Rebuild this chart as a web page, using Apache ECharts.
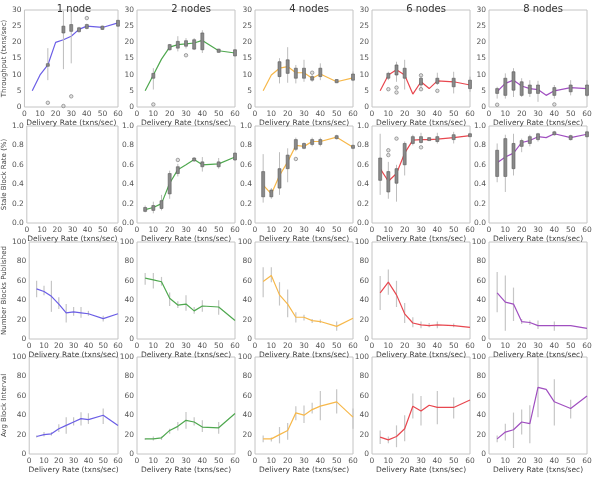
<!DOCTYPE html>
<html>
<head>
<meta charset="utf-8">
<script src="https://cdn.jsdelivr.net/npm/echarts@6/dist/echarts.min.js"></script>
<style>
  html, body { margin: 0; padding: 0; background: #fff; }
  #chart { width: 596px; height: 480px; }
</style>
</head>
<body>
<div id="chart"></div>
<script>
// delivery rates (x) shared by all panels
var rates = [5, 10, 15, 20, 25, 30, 35, 40, 50, 60];
var nodeTitles = ['1 node', '2 nodes', '4 nodes', '6 nodes', '8 nodes'];
var rowNames = ['Throughput (txns/sec)', 'Stale Block Rate (%)', 'Number Blocks Published', 'Avg Block Interval'];
var colors = ['#6b5ee6', '#4fa84f', '#f7b84a', '#e8474f', '#a04fc0'];

// row 1: throughput (mean line), boxes [x, min, q1, q3, max], outliers [x, y]
var tput1 = [5, 9.9, 13, 20, 20.8, 21.9, 24, 25, 24.6, 26];
var tput2 = [5, 9.9, 14.8, 18.5, 19.3, 19.5, 19.8, 20.6, 17.4, 16.7];
var tput4 = [5, 9.9, 12, 12.5, 10.6, 10.6, 8.9, 10.2, 7.8, 9];
var tput6 = [5, 9.9, 11.5, 9.9, 4, 7.8, 5.7, 8.1, 7.8, 6.8];
var tput8 = [4.8, 7.3, 8.3, 6.5, 5.7, 5.4, 3.6, 5, 6, 5.7];

var tput1Box = [[15, 8.3, 12.6, 13.4, 18.2], [25, 11.7, 22.9, 25, 29.7], [30, 13.5, 23.4, 25.5, 29.7], [35, 23, 23.3, 24.5, 24.8], [40, 24, 24.3, 25.5, 25.8], [50, 23.8, 24, 25, 25.2], [60, 24.8, 25, 26.8, 27]];
var tput2Box = [[10, 5.4, 8.9, 10.4, 12], [20, 17.5, 17.7, 19.3, 19.5], [25, 17.2, 18.2, 20.3, 21.9], [30, 18.1, 18.8, 20.5, 21.3], [35, 17.6, 17.9, 20.8, 21.3], [40, 16.7, 17.7, 22.9, 23.75], [50, 16.8, 16.9, 17.9, 18], [60, 15.6, 15.8, 17.7, 17.9]];
var tput4Box = [[15, 7.3, 9.4, 14, 15.1], [20, 7.5, 10.4, 14.6, 18.5], [25, 7.3, 8.9, 12, 13], [30, 7.8, 8.9, 12, 14.6], [35, 7.8, 8.3, 9.4, 9.9], [40, 8.3, 9.4, 12, 13.5], [50, 7.4, 7.5, 8.5, 8.6], [60, 8, 8.3, 10.2, 11]];
var tput6Box = [[10, 8.3, 8.9, 10.4, 10.9], [15, 7.8, 9.9, 13, 14], [20, 5.4, 8.9, 12, 14.6], [30, 5.4, 6.8, 8.9, 10.2], [40, 6.8, 7.3, 8.9, 10.6], [50, 4.2, 6.25, 8.9, 10.9], [60, 4.7, 5.7, 8.3, 9.4]];
var tput8Box = [[5, 2.6, 4.2, 5.7, 6.25], [10, 2.6, 3.6, 8.9, 10.4], [15, 3.1, 5.2, 10.9, 12], [20, 3.1, 3.6, 7.8, 8.9], [25, 3.1, 4.2, 6.8, 8.3], [30, 1.6, 4.2, 6.8, 8.1], [40, 2.6, 3.6, 6, 6.8], [50, 3.6, 4.7, 6.8, 8.3], [60, 3.1, 3.6, 6.8, 8.3]];

var tput1Out = [[15, 1.3], [25, 0.3], [30, 3.3], [40, 27.5]];
var tput2Out = [[10, 0.8], [30, 16]];
var tput4Out = [[35, 10.6]];
var tput6Out = [[10, 5.5], [15, 6], [15, 4.5], [30, 9.8], [30, 5.5], [40, 5]];
var tput8Out = [[5, 0.7], [40, 0.8]];

// row 2: stale block rate
var stale1 = [];
var stale2 = [0.138, 0.16, 0.2, 0.41, 0.55, 0.6, 0.655, 0.6, 0.61, 0.68];
var stale4 = [0.39, 0.3, 0.49, 0.63, 0.8, 0.79, 0.84, 0.84, 0.885, 0.78];
var stale6 = [0.56, 0.43, 0.51, 0.72, 0.855, 0.86, 0.86, 0.865, 0.88, 0.9];
var stale8 = [0.62, 0.68, 0.72, 0.83, 0.85, 0.89, 0.88, 0.92, 0.88, 0.915];

var stale1Box = [];
var stale2Box = [[5, 0.11, 0.12, 0.16, 0.18], [10, 0.1, 0.13, 0.18, 0.22], [15, 0.13, 0.15, 0.23, 0.29], [20, 0.25, 0.3, 0.51, 0.54], [25, 0.48, 0.51, 0.58, 0.61], [35, 0.63, 0.64, 0.67, 0.68], [40, 0.53, 0.58, 0.63, 0.68], [50, 0.56, 0.58, 0.63, 0.67], [60, 0.64, 0.65, 0.72, 0.73]];
var stale4Box = [[5, 0.21, 0.27, 0.53, 0.71], [10, 0.25, 0.27, 0.34, 0.36], [15, 0.29, 0.36, 0.56, 0.73], [20, 0.42, 0.56, 0.7, 0.77], [25, 0.74, 0.76, 0.86, 0.88], [30, 0.76, 0.77, 0.82, 0.83], [35, 0.79, 0.81, 0.86, 0.88], [40, 0.79, 0.81, 0.86, 0.88], [50, 0.86, 0.87, 0.9, 0.91], [60, 0.76, 0.77, 0.8, 0.81]];
var stale6Box = [[5, 0.29, 0.44, 0.67, 0.92], [10, 0.25, 0.32, 0.53, 0.63], [15, 0.22, 0.41, 0.56, 0.6], [20, 0.49, 0.6, 0.82, 0.84], [25, 0.8, 0.82, 0.89, 0.91], [30, 0.82, 0.83, 0.89, 0.93], [35, 0.85, 0.85, 0.88, 0.88], [40, 0.82, 0.84, 0.89, 0.93], [50, 0.82, 0.86, 0.91, 0.94], [60, 0.89, 0.89, 0.92, 0.93]];
var stale8Box = [[5, 0.42, 0.48, 0.75, 0.82], [10, 0.32, 0.48, 0.87, 0.91], [15, 0.49, 0.56, 0.82, 0.92], [20, 0.73, 0.79, 0.85, 0.87], [25, 0.79, 0.82, 0.89, 0.91], [30, 0.84, 0.86, 0.92, 0.93], [40, 0.9, 0.91, 0.94, 0.95], [50, 0.85, 0.86, 0.9, 0.91], [60, 0.88, 0.89, 0.94, 0.95]];

var stale1Out = [];
var stale2Out = [[25, 0.65]];
var stale4Out = [[25, 0.66]];
var stale6Out = [[10, 0.75], [10, 0.7], [15, 0.87], [30, 0.78]];
var stale8Out = [];

// row 3: number of blocks published, error bars [x, low, high]
var blocks1 = [51.7, 49, 44, 36, 27, 28, 27, 26, 21, 26];
var blocks2 = [62.8, 61, 59, 42, 35, 36, 29, 34, 33, 19];
var blocks4 = [59.3, 65.5, 45.5, 36, 22.4, 22.4, 19, 18, 13, 21.4];
var blocks6 = [47.6, 58.6, 45.5, 26, 16.5, 14.5, 13.8, 14.5, 13.8, 12];
var blocks8 = [47.6, 38, 36, 18, 17, 13.8, 13.8, 13.8, 13.8, 11];

var blocks1Err = [[5, 43, 60], [10, 45, 55], [15, 28, 60], [20, 31, 43], [25, 17, 36], [30, 24, 33], [35, 22, 33], [40, 24, 29], [50, 18, 24]];
var blocks2Err = [[5, 56, 68], [10, 52, 68], [15, 55, 64], [20, 34, 48], [25, 32, 39], [30, 29, 45], [35, 26, 33], [40, 28, 40], [50, 25, 40]];
var blocks4Err = [[5, 43, 74], [10, 58.6, 74], [15, 34.5, 58.6], [20, 22.4, 51], [25, 17, 27.6], [30, 19, 25], [35, 16.5, 20.7], [40, 16.5, 20], [50, 8.6, 18]];
var blocks6Err = [[5, 30, 65], [10, 45.5, 71.7], [15, 33, 60], [20, 16.5, 37], [25, 12, 22.4], [30, 11, 18], [35, 12, 16.5], [40, 11, 18], [50, 12, 16]];
var blocks8Err = [[5, 27.6, 69], [10, 8.6, 65.5], [15, 18.6, 53], [20, 15.5, 20.7], [25, 14.5, 19], [30, 10.3, 19], [40, 8.6, 18]];

// row 4: average block interval
var interval1 = [18, 20, 20.8, 26, 29.5, 33, 36.5, 35.4, 40, 29.5];
var interval2 = [15.6, 15.6, 16.7, 24.3, 28.5, 34.7, 33, 27.8, 27, 41.7];
var interval4 = [15.6, 15.6, 20, 24.3, 42.4, 40, 45.8, 49.3, 53.8, 38];
var interval6 = [17.4, 14.6, 18, 26, 49.3, 44.4, 50.3, 48, 48, 55.6];
var interval8 = [15.6, 22.6, 25, 33, 31.3, 68.75, 66.7, 53.8, 46.9, 59.7];

var interval1Err = [[5, 17, 19], [10, 18, 22.6], [15, 19, 22.5], [20, 22.6, 30.6], [25, 20.8, 38], [30, 29.5, 38], [35, 29.5, 43], [40, 31, 42], [50, 31, 47]];
var interval2Err = [[5, 14.5, 16.5], [10, 13.9, 18], [15, 14.5, 18], [20, 20.8, 26], [25, 24.3, 33], [30, 26, 43.4], [35, 29.5, 38], [40, 22.6, 34.7], [50, 20.8, 33]];
var interval4Err = [[5, 12, 19], [10, 13, 17], [15, 11, 27.8], [20, 14.6, 32], [25, 34.7, 49.3], [30, 32, 50], [35, 41.7, 52.8], [40, 34.7, 64.9], [50, 41.7, 66.7], [60, 26, 47]];
var interval6Err = [[5, 10.4, 24.3], [10, 11, 18], [15, 7, 29.5], [20, 13.2, 40], [25, 36.5, 62.5], [30, 29.5, 59.7], [40, 30.6, 65], [50, 36.5, 58.3]];
var interval8Err = [[5, 12, 19], [10, 13.9, 31.3], [15, 6.2, 42.7], [20, 20, 45.8], [25, 11, 50.3], [30, 38, 100], [40, 29.5, 77], [50, 36.5, 56]];

var lines = [
    [tput1, tput2, tput4, tput6, tput8],
    [stale1, stale2, stale4, stale6, stale8],
    [blocks1, blocks2, blocks4, blocks6, blocks8],
    [interval1, interval2, interval4, interval6, interval8]
];
var boxes = [
    [tput1Box, tput2Box, tput4Box, tput6Box, tput8Box],
    [stale1Box, stale2Box, stale4Box, stale6Box, stale8Box]
];
var outliers = [
    [tput1Out, tput2Out, tput4Out, tput6Out, tput8Out],
    [stale1Out, stale2Out, stale4Out, stale6Out, stale8Out]
];
var errs = [
    [blocks1Err, blocks2Err, blocks4Err, blocks6Err, blocks8Err],
    [interval1Err, interval2Err, interval4Err, interval6Err, interval8Err]
];
var yMax = [30, 1, 100, 100];
var yStep = [5, 0.2, 20, 20];

var gridLefts = [20, 137, 255, 372, 489];
var gridTops = [10, 126, 242, 357];
var gw = 98, gh = 97;

function renderBox(params, api) {
    var x = api.value(0);
    var lo = api.coord([x, api.value(1)]);
    var q1 = api.coord([x, api.value(2)]);
    var q3 = api.coord([x, api.value(3)]);
    var hi = api.coord([x, api.value(4)]);
    return {
        type: 'group',
        children: [
            {type: 'line', shape: {x1: lo[0], y1: lo[1], x2: hi[0], y2: hi[1]}, style: {stroke: '#bdbdbd', lineWidth: 1}},
            {type: 'rect', shape: {x: q1[0] - 1.5, y: q3[1], width: 3, height: Math.max(q1[1] - q3[1], 1)},
                style: {fill: '#8a8a8a', stroke: '#5a5a5a', lineWidth: 0.6}}
        ]
    };
}

function renderErr(params, api) {
    var x = api.value(0);
    var lo = api.coord([x, api.value(1)]);
    var hi = api.coord([x, api.value(2)]);
    return {type: 'line', shape: {x1: lo[0], y1: lo[1], x2: hi[0], y2: hi[1]}, style: {stroke: '#c6c6c6', lineWidth: 1.2}};
}

var grids = [], xAxes = [], yAxes = [], series = [], titles = [];
nodeTitles.forEach(function (t, c) {
    titles.push({
        text: t, left: gridLefts[c] + gw / 2, top: -1, textAlign: 'center',
        textStyle: {fontSize: 10, fontWeight: 'normal', color: '#333', fontFamily: 'DejaVu Sans'}
    });
});

for (var r = 0; r < 4; r++) {
    for (var c = 0; c < 5; c++) {
        var idx = r * 5 + c;
        grids.push({left: gridLefts[c], top: gridTops[r], width: gw, height: gh,
            show: true, borderColor: '#c4c4c4', borderWidth: 1, backgroundColor: '#fff'});
        xAxes.push({
            type: 'value', gridIndex: idx, min: 0, max: 60, interval: 10,
            name: 'Delivery Rate (txns/sec)', nameLocation: 'middle', nameGap: 12,
            nameTextStyle: {fontSize: 7.5, color: '#444', fontFamily: 'DejaVu Sans'},
            axisLine: {show: false}, axisTick: {show: false}, splitLine: {show: false},
            axisLabel: {fontSize: 7.5, color: '#555', margin: 3, fontFamily: 'DejaVu Sans'}
        });
        yAxes.push({
            type: 'value', gridIndex: idx, min: 0, max: yMax[r], interval: yStep[r],
            name: c === 0 ? rowNames[r] : '', nameLocation: 'middle', nameGap: 15,
            nameTextStyle: {fontSize: 7, color: '#444', fontFamily: 'DejaVu Sans'},
            axisLine: {show: false}, axisTick: {show: false}, splitLine: {show: false},
            axisLabel: {fontSize: 7.5, color: '#555', margin: 3, fontFamily: 'DejaVu Sans',
                formatter: r === 1 ? function (v) { return v.toFixed(1); } : null}
        });

        var ys = lines[r][c];
        var pts = ys.map(function (v, i) { return [rates[i], v]; });

        if (r < 2) {
            series.push({
                type: 'custom', xAxisIndex: idx, yAxisIndex: idx, renderItem: renderBox,
                encode: {x: 0, y: [1, 2, 3, 4]}, data: boxes[r][c], z: 3, silent: true
            });
            series.push({
                type: 'scatter', xAxisIndex: idx, yAxisIndex: idx, data: outliers[r][c],
                symbol: 'circle', symbolSize: 3.5, z: 4, silent: true,
                itemStyle: {color: '#d8d8d8', borderColor: '#666', borderWidth: 0.7}
            });
        } else {
            series.push({
                type: 'custom', xAxisIndex: idx, yAxisIndex: idx, renderItem: renderErr,
                encode: {x: 0, y: [1, 2]}, data: errs[r - 2][c], z: 1, silent: true
            });
        }
        series.push({
            type: 'line', xAxisIndex: idx, yAxisIndex: idx, data: pts,
            showSymbol: false, z: 2, silent: true,
            lineStyle: {color: colors[c], width: 1.2}
        });
    }
}

var chart = echarts.init(document.getElementById('chart'));
chart.setOption({
    animation: false,
    backgroundColor: '#fff',
    title: titles,
    grid: grids,
    xAxis: xAxes,
    yAxis: yAxes,
    series: series
});
</script>
</body>
</html>
